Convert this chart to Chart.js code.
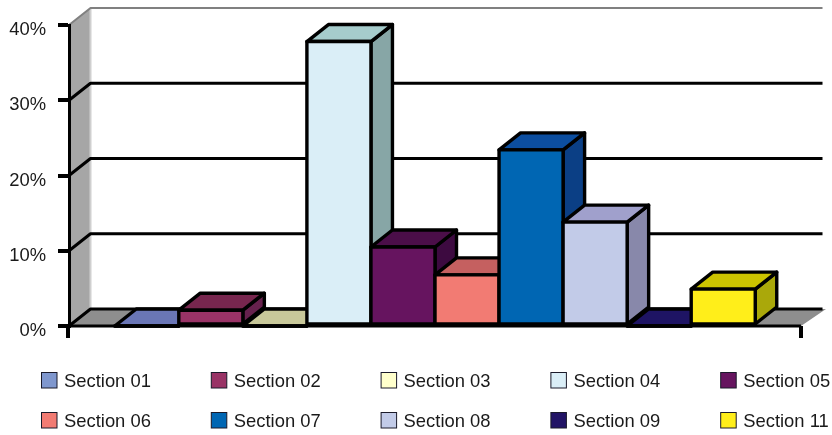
<!DOCTYPE html>
<html>
<head>
<meta charset="utf-8">
<style>
  html, body { margin: 0; padding: 0; background: #fff; }
  #wrap { width: 832px; height: 435px; }
</style>
<script src="https://cdn.jsdelivr.net/npm/chart.js@4/dist/chart.umd.min.js"></script>
</head>
<body>
<div id="wrap"><canvas id="chart" width="832" height="435"></canvas></div>
<script>
const sectionNames = ['Section 01','Section 02','Section 03','Section 04','Section 05','Section 06','Section 07','Section 08','Section 09','Section 11'];
const sectionShares = [0, 2.1, 0, 37.8, 10.5, 6.8, 23.4, 13.8, 0, 4.9];
const yTicks = { min: 0, max: 40, step: 10 };

const frontColours = ['#7F97CE','#993366','#FFFFCC','#DAEEF7','#66145F','#F27B73','#0066B3','#C2CBE8','#221466','#FFEE1A'];
const topColours   = ['#6A76B6','#77264E','#C8C89A','#A6CCCC','#4B0E49','#C56060','#0C4EA0','#A0A0CC','#1E1464','#CCC400'];
const sideColours  = ['#5A6398','#66214D','#A8A880','#87A6A6','#3D0A40','#A04E4E','#0B3F85','#8888AA','#150E48','#AAA80A'];

const DEPTH_X = 21.5, DEPTH_Y = 17, EDGE = 3.4;

function poly(ctx, pts, fill, stroke, width) {
  ctx.beginPath();
  pts.forEach((p, i) => i ? ctx.lineTo(p[0], p[1]) : ctx.moveTo(p[0], p[1]));
  ctx.closePath();
  if (fill) { ctx.fillStyle = fill; ctx.fill(); }
  if (stroke) { ctx.strokeStyle = stroke; ctx.lineWidth = width; ctx.lineJoin = 'round'; ctx.stroke(); }
}

// Side wall, floor and back-wall gridlines of the 3D frame, placed from the value scale.
const frame3d = {
  id: 'frame3d',
  beforeDraw(chart) {
    const { ctx, chartArea: a, scales: { y } } = chart;
    const yTop = y.getPixelForValue(yTicks.max), y0 = y.getPixelForValue(0);
    ctx.save();
    poly(ctx, [[a.left, y0], [a.left + DEPTH_X, y0 - DEPTH_Y], [a.left + DEPTH_X, yTop - DEPTH_Y], [a.left, yTop]], '#A6A6A6');
    ctx.strokeStyle = '#CFCFCF'; ctx.lineWidth = 2;
    ctx.beginPath(); ctx.moveTo(a.left + DEPTH_X, yTop - DEPTH_Y); ctx.lineTo(a.left + DEPTH_X, y0 - DEPTH_Y); ctx.stroke();
    poly(ctx, [[a.left, y0], [a.left + DEPTH_X, y0 - DEPTH_Y], [a.right + 25, y0 - DEPTH_Y], [a.right, y0]], '#8E8E8E');
    y.ticks.forEach(t => {
      const py = y.getPixelForValue(t.value), top = t.value === yTicks.max;
      ctx.strokeStyle = top ? '#808080' : '#000';
      ctx.lineWidth = top ? 2 : 3;
      ctx.lineJoin = 'round';
      ctx.beginPath();
      ctx.moveTo(a.left, py);
      ctx.lineTo(a.left + DEPTH_X, py - DEPTH_Y);
      ctx.lineTo(a.right + DEPTH_X, py - DEPTH_Y);
      ctx.stroke();
    });
    ctx.restore();
  },
  // Bars are painted left to right so each one overlaps the side face of its neighbour.
  beforeDatasetsDraw(chart) {
    const { ctx, chartArea: a } = chart;
    chart.data.datasets.forEach((ds, i) => {
      const bar = chart.getDatasetMeta(i).data[0];
      const { x, y, base, width } = bar.getProps(['x', 'y', 'base', 'width'], true);
      const l = x - width / 2, r = x + width / 2;
      ctx.save();
      poly(ctx, [[r, y], [r + DEPTH_X, y - DEPTH_Y], [r + DEPTH_X, base - DEPTH_Y], [r, base]], sideColours[i], '#000', EDGE);
      poly(ctx, [[l, y], [l + DEPTH_X, y - DEPTH_Y], [r + DEPTH_X, y - DEPTH_Y], [r, y]], topColours[i], '#000', EDGE);
      bar.draw(ctx, a);
      ctx.strokeStyle = '#000'; ctx.lineWidth = EDGE; ctx.lineJoin = 'round';
      ctx.strokeRect(l, y, width, base - y);
      ctx.restore();
    });
    // Category-axis end ticks
    const y0 = chart.scales.y.getPixelForValue(0);
    ctx.save();
    ctx.strokeStyle = '#000'; ctx.lineWidth = 4;
    ctx.beginPath();
    ctx.moveTo(a.left - 1, y0); ctx.lineTo(a.left - 1, y0 + 12);
    ctx.moveTo(a.right, y0); ctx.lineTo(a.right, y0 + 12);
    ctx.stroke();
    ctx.lineWidth = 3;
    ctx.beginPath(); ctx.moveTo(a.left, y0); ctx.lineTo(a.right, y0); ctx.stroke();
    ctx.restore();
    return false;
  },
  // Two-row, five-column key below the chart.
  afterDraw(chart) {
    const { ctx } = chart;
    ctx.save();
    ctx.font = '18.4px "Liberation Sans", Arial, sans-serif';
    ctx.textBaseline = 'middle';
    ctx.textAlign = 'left';
    sectionNames.forEach((name, i) => {
      const col = i % 5, row = Math.floor(i / 5);
      const sx = 41.5 + col * 169.8, sy = 372.5 + row * 40;
      ctx.fillStyle = frontColours[i];
      ctx.fillRect(sx, sy, 15.5, 15.5);
      ctx.strokeStyle = '#1a1a2a'; ctx.lineWidth = 1;
      ctx.strokeRect(sx, sy, 15.5, 15.5);
      ctx.fillStyle = '#1a1a1a';
      ctx.fillText(name, sx + 22.5, sy + 9.5);
    });
    ctx.restore();
  }
};

new Chart(document.getElementById('chart'), {
  type: 'bar',
  data: {
    labels: [''],
    datasets: sectionNames.map((name, i) => ({
      label: name,
      data: [sectionShares[i]],
      backgroundColor: frontColours[i],
      borderWidth: 0
    }))
  },
  plugins: [frame3d],
  options: {
    responsive: false,
    animation: false,
    layout: { padding: { left: 0, right: 31, top: 25, bottom: 0 } },
    datasets: { bar: { barPercentage: 1, categoryPercentage: 0.875 } },
    plugins: { legend: { display: false }, tooltip: { enabled: false } },
    scales: {
      x: {
        grid: { display: false },
        border: { display: false },
        ticks: { display: false },
        afterFit(s) { s.height = 109; }
      },
      y: {
        min: yTicks.min,
        max: yTicks.max,
        afterFit(s) { s.width = 69; },
        grid: { drawOnChartArea: false, tickLength: 11, lineWidth: 4, color: '#000' },
        border: { display: true, color: '#000', width: 3 },
        ticks: {
          stepSize: yTicks.step,
          padding: 12,
          labelOffset: 5,
          color: '#1a1a1a',
          font: { family: '"Liberation Sans", Arial, sans-serif', size: 18.4 },
          callback: v => v + '%'
        }
      }
    }
  }
});
</script>
</body>
</html>
